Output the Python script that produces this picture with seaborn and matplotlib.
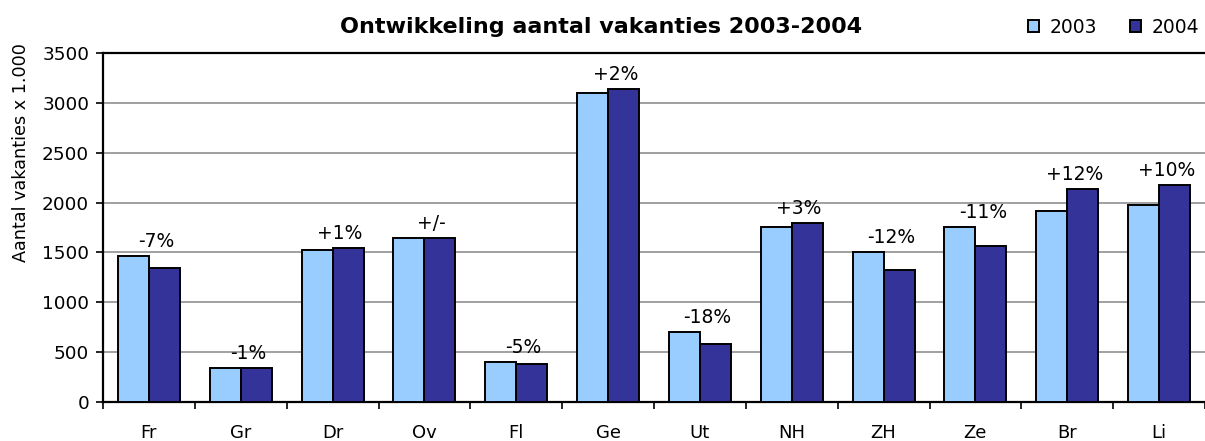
import matplotlib
matplotlib.use("Agg")
import matplotlib.pyplot as plt
import seaborn as sns
import pandas as pd
import numpy as np
from matplotlib.ticker import FixedLocator

provinces = ["Fr", "Gr", "Dr", "Ov", "Fl", "Ge", "Ut", "NH", "ZH", "Ze", "Br", "Li"]
years = ["2003", "2004"]
values_2003 = [1460, 340, 1520, 1640, 400, 3100, 700, 1760, 1500, 1760, 1920, 1980]
values_2004 = [1340, 340, 1540, 1640, 380, 3140, 580, 1800, 1320, 1560, 2140, 2180]
change_labels = ["-7%", "-1%", "+1%", "+/-", "-5%", "+2%", "-18%", "+3%", "-12%", "-11%", "+12%", "+10%"]
title = "Ontwikkeling aantal vakanties 2003-2004"
ylabel = "Aantal vakanties x 1.000"

df = pd.DataFrame({
    "provincie": provinces * 2,
    "jaar": [years[0]] * len(provinces) + [years[1]] * len(provinces),
    "aantal": values_2003 + values_2004,
})

sns.set_style("white")
plt.rcParams["font.family"] = ["DejaVu Sans"]
plt.rcParams["text.color"] = "black"
plt.rcParams["axes.labelcolor"] = "black"
plt.rcParams["xtick.color"] = "black"
plt.rcParams["ytick.color"] = "black"

fig = plt.figure(figsize=(12.05, 4.41), dpi=100)
ax = fig.add_axes([0.0855, 0.0884, 0.9145, 0.7914])

palette = {"2003": "#99CCFF", "2004": "#333399"}
sns.barplot(data=df, x="provincie", y="aantal", hue="jaar", order=provinces,
            hue_order=years, palette=palette, width=0.675, edgecolor="black",
            linewidth=1.4, saturation=1, ax=ax, legend=True, zorder=3)

ax.set_ylim(0, 3500)
ax.set_xlim(-0.5, len(provinces) - 0.5)
ax.set_yticks(np.arange(0, 3501, 500))
ax.yaxis.grid(True, color="#999999", linewidth=1.3, zorder=0)
ax.set_axisbelow(True)

for s in ["left", "bottom", "top"]:
    ax.spines[s].set_visible(True)
    ax.spines[s].set_color("black")
    ax.spines[s].set_linewidth(1.6)
ax.spines["right"].set_visible(False)

ax.tick_params(axis="y", which="major", direction="out", length=5, width=1.2,
               labelsize=13.3, left=True, pad=5, colors="black")
ax.tick_params(axis="x", which="major", length=0, labelsize=13, pad=16, colors="black")
ax.xaxis.set_minor_locator(FixedLocator(np.arange(-0.5, len(provinces), 1.0)))
ax.tick_params(axis="x", which="minor", direction="out", length=5, width=1.2, bottom=True)

ax.set_xlabel("")
ax.set_ylabel(ylabel, fontsize=12.7, color="black")
ax.yaxis.set_label_coords(-0.066, 0.716)

for i, lab in enumerate(change_labels):
    top = max(values_2003[i], values_2004[i])
    ax.text(i + 0.08, top + 50, lab, ha="center", va="bottom", fontsize=13.5,
            color="black", zorder=5)

fig.text(0.499, 0.938, title, ha="center", va="center", fontsize=16,
         fontweight="bold", color="black")

handles, labels = ax.get_legend_handles_labels()
ax.legend(handles, labels, loc="center", bbox_to_anchor=(0.917, 1.0745), ncol=2,
          frameon=False, fontsize=13.5, handlelength=0.6, handleheight=0.6,
          handletextpad=0.55, columnspacing=1.75, borderaxespad=0, borderpad=0)

fig.savefig("out.png", dpi=100)
